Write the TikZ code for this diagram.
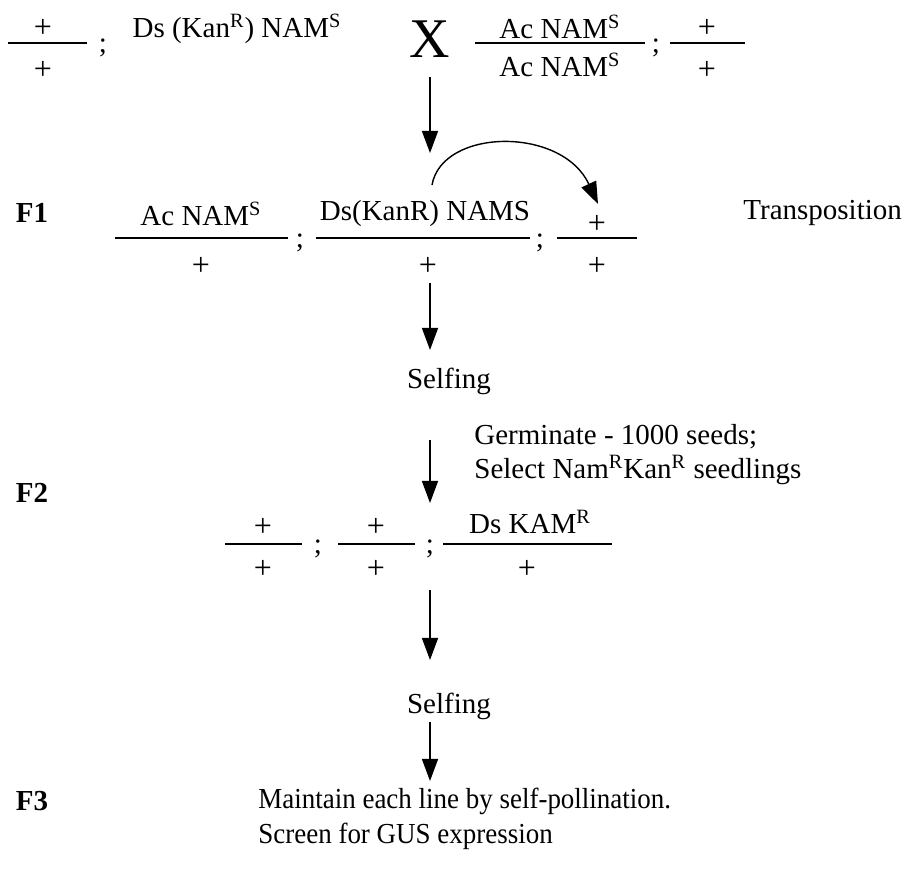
\documentclass[tikz,border=0pt]{standalone}
\usepackage{fontspec}
\setmainfont{Liberation Serif}
\newfontfamily\narrowserif[FakeStretch=0.93]{Liberation Serif}
\usetikzlibrary{arrows.meta}
\begin{document}
\begin{tikzpicture}[x=0.5pt,y=-0.5pt,
  txt/.style={inner sep=0pt,font=\fontsize{14.5}{17}\selectfont},
  plus/.style={inner sep=0pt,font=\fontsize{16}{18}\selectfont},
  narrow/.style={inner sep=0pt,font=\narrowserif\fontsize{14.5}{17}\selectfont},
  big/.style={inner sep=0pt,font=\fontsize{28}{30}\selectfont},
  lbl/.style={inner sep=0pt,font=\fontsize{14.5}{17}\selectfont\bfseries},
  fracline/.style={line width=0.7pt},
  flow/.style={line width=0.7pt,-{Triangle[width=8pt,length=11pt]}}]
\useasboundingbox (0,0) rectangle (906,881);

% ---------- Row 1 (cross) ----------
\node[plus] (a1t) at (43,28) {+};
\draw[fracline] (8,43) -- (87,43);
\node[plus] (a1b) at (43,70) {+};
\node[txt] (s1) at (103,48) {;};
\node[txt] (ds1) at (237,29) {Ds (Kan\textsuperscript{R}) NAM\textsuperscript{S}};
\node[big] (cross) at (430,39) {X};
\node[txt] (b1t) at (560,27) {Ac NAM\textsuperscript{S}};
\draw[fracline] (475,43) -- (645,43);
\node[txt] (b1b) at (560,65) {Ac NAM\textsuperscript{S}};
\node[txt] (s2) at (656,48) {;};
\node[plus] (c1t) at (707,28) {+};
\draw[fracline] (670,43) -- (745,43);
\node[plus] (c1b) at (707,70) {+};

\coordinate (ar1s) at (430,77);
\coordinate (ar1e) at (430,153);
\draw[flow] (ar1s) -- (ar1e);

% ---------- F1 ----------
\node[lbl] (F1) at (32,213) {F1};
\node[txt] (d1t) at (201,214) {Ac NAM\textsuperscript{S}};
\draw[fracline] (115,238) -- (288,238);
\node[plus] (d1b) at (201,266) {+};
\node[txt] (s3) at (300,243) {;};
\node[txt] (e1t) at (425,214) {Ds(KanR) NAMS};
\draw[fracline] (316,238) -- (530,238);
\node[plus] (e1b) at (428,266) {+};
\node[txt] (s4) at (540,243) {;};
\node[plus] (f1t) at (597,224) {+};
\draw[fracline] (557,238) -- (637,238);
\node[plus] (f1b) at (597,266) {+};
\node[txt,anchor=west] (trans) at (743,213) {Transposition};

\coordinate (tps) at (432,185);
\coordinate (tpe) at (598,204);
\draw[flow] (tps) .. controls (442,128) and (562,126) .. (tpe);

\coordinate (ar2s) at (430,283);
\coordinate (ar2e) at (430,350);
\draw[flow] (ar2s) -- (ar2e);
\node[txt] (self1) at (449,381) {Selfing};

\coordinate (ar3s) at (430,440);
\coordinate (ar3e) at (430,503);
\draw[flow] (ar3s) -- (ar3e);
\node[txt,anchor=west] (germ) at (474,437) {Germinate - 1000 seeds;};
\node[txt,anchor=west] (sel) at (474,470) {Select Nam\textsuperscript{R}Kan\textsuperscript{R} seedlings};

% ---------- F2 ----------
\node[lbl] (F2) at (32,493) {F2};
\node[plus] (g1t) at (263,527) {+};
\draw[fracline] (225,544) -- (302,544);
\node[plus] (g1b) at (263,569) {+};
\node[txt] (s5) at (318,549) {;};
\node[plus] (h1t) at (376,527) {+};
\draw[fracline] (338,544) -- (415,544);
\node[plus] (h1b) at (376,569) {+};
\node[txt] (s6) at (430,549) {;};
\node[txt] (i1t) at (530,522) {Ds KAM\textsuperscript{R}};
\draw[fracline] (443,544) -- (612,544);
\node[plus] (i1b) at (527,569) {+};

\coordinate (ar4s) at (430,590);
\coordinate (ar4e) at (430,660);
\draw[flow] (ar4s) -- (ar4e);
\node[txt] (self2) at (449,706) {Selfing};

\coordinate (ar5s) at (430,722);
\coordinate (ar5e) at (430,781);
\draw[flow] (ar5s) -- (ar5e);

% ---------- F3 ----------
\node[lbl] (F3) at (32,801) {F3};
\node[narrow,anchor=west] (maint) at (258,801) {Maintain each line by self-pollination.};
\node[narrow,anchor=west] (screen) at (258,836) {Screen for GUS expression};
\end{tikzpicture}
\end{document}
